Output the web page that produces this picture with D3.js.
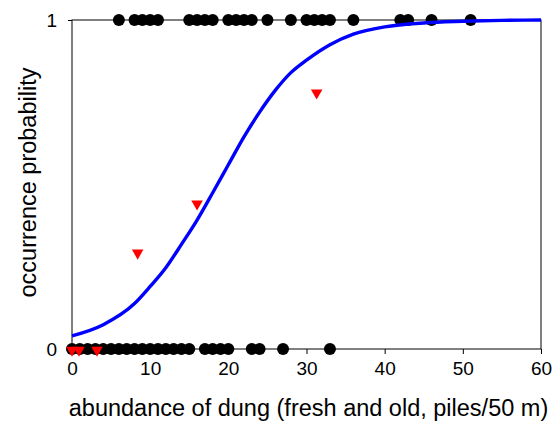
<!DOCTYPE html>
<html>
<head>
<meta charset="utf-8">
<script src="https://cdn.jsdelivr.net/npm/d3@7"></script>
<style>
  html, body { margin: 0; padding: 0; background: #fff; }
  svg { display: block; font-family: "Liberation Sans", Arial, sans-serif; }
</style>
</head>
<body>
<div id="chart"></div>
<script>
// observed presence (1) / absence (0) by dung abundance
const presentX = [6, 8, 9, 10, 11, 15, 16, 17, 18, 20, 21, 22, 23, 25, 28, 30, 31, 32, 33, 36, 42, 43, 46, 51];
const absentX = [0, 1, 2, 3, 4, 5, 6, 7, 8, 9, 10, 11, 12, 13, 14, 15, 17, 18, 19, 20, 23, 24, 27, 33];

// binned observed frequencies (red triangles)
const binX = [0, 0.9, 3.2, 8.4, 16, 31.3];
const binP = [0, 0, 0, 0.295, 0.444, 0.782];

// fitted curve
const curveX = [0, 4, 8, 10, 12, 14, 16, 18, 20, 22, 24, 26, 28, 30, 33, 36, 40, 45, 50, 55, 60];
const curveP = [0.04, 0.074, 0.138, 0.19, 0.247, 0.318, 0.392, 0.475, 0.56, 0.645, 0.72, 0.786, 0.84, 0.878, 0.925, 0.957, 0.979, 0.991, 0.996, 0.999, 1.0];

const xTicks = [0, 10, 20, 30, 40, 50, 60];
const yTicks = [0, 1];

const W = 560, H = 423;
const m = { left: 72, right: 19, top: 20, bottom: 74 };

const svg = d3.select("#chart").append("svg")
  .attr("width", W).attr("height", H);

const x = d3.scaleLinear().domain([0, 60]).range([m.left, W - m.right]);
const y = d3.scaleLinear().domain([0, 1]).range([H - m.bottom, m.top]);

// frame
svg.append("rect")
  .attr("x", x(0)).attr("y", y(1))
  .attr("width", x(60) - x(0)).attr("height", y(0) - y(1))
  .attr("fill", "none").attr("stroke", "#000").attr("stroke-width", 1);

const xAxis = svg.append("g")
  .attr("transform", `translate(0,${y(0)})`)
  .call(d3.axisBottom(x).tickValues(xTicks).tickSize(5).tickPadding(6).tickFormat(d3.format("d")));
const yAxis = svg.append("g")
  .attr("transform", `translate(${x(0)},0)`)
  .call(d3.axisLeft(y).tickValues(yTicks).tickSize(4).tickPadding(11).tickFormat(d3.format("d")));

[xAxis, yAxis].forEach(g => {
  g.select(".domain").remove();
  g.selectAll("line").attr("stroke", "#000");
  g.selectAll("text").attr("fill", "#000").style("font-size", "19px")
    .style("font-family", "'Liberation Sans', Arial, sans-serif");
});
xAxis.selectAll("text").attr("dy", "0.78em");
yAxis.selectAll("text").attr("dy", "0.36em");

// dots
const dots = presentX.map(v => ({ x: v, p: 1 })).concat(absentX.map(v => ({ x: v, p: 0 })));
svg.append("g").selectAll("circle").data(dots).join("circle")
  .attr("cx", d => x(d.x)).attr("cy", d => y(d.p)).attr("r", 6)
  .attr("fill", "#000");

// red triangles (pointing down)
const tri = d3.symbol().type(d3.symbolTriangle).size(58);
svg.append("g").selectAll("path").data(binX.map((v, i) => ({ x: v, p: binP[i] }))).join("path")
  .attr("d", tri)
  .attr("transform", d => `translate(${x(d.x)},${y(d.p) + 1}) rotate(180)`)
  .attr("fill", "#ff0000");

// fitted curve
const line = d3.line().x(d => x(d[0])).y(d => y(d[1])).curve(d3.curveMonotoneX);
svg.append("path")
  .datum(curveX.map((v, i) => [v, curveP[i]]))
  .attr("d", line)
  .attr("fill", "none").attr("stroke", "#0000ff").attr("stroke-width", 3.4);

// axis titles
svg.append("text")
  .attr("x", (x(0) + x(60)) / 2 + 2).attr("y", 416)
  .attr("text-anchor", "middle").style("font-size", "23.5px")
  .text("abundance of dung (fresh and old, piles/50 m)");
svg.append("text")
  .attr("transform", `translate(36,${(y(0) + y(1)) / 2 - 2}) rotate(-90)`)
  .attr("text-anchor", "middle").style("font-size", "23.5px")
  .text("occurrence probability");
</script>
</body>
</html>
